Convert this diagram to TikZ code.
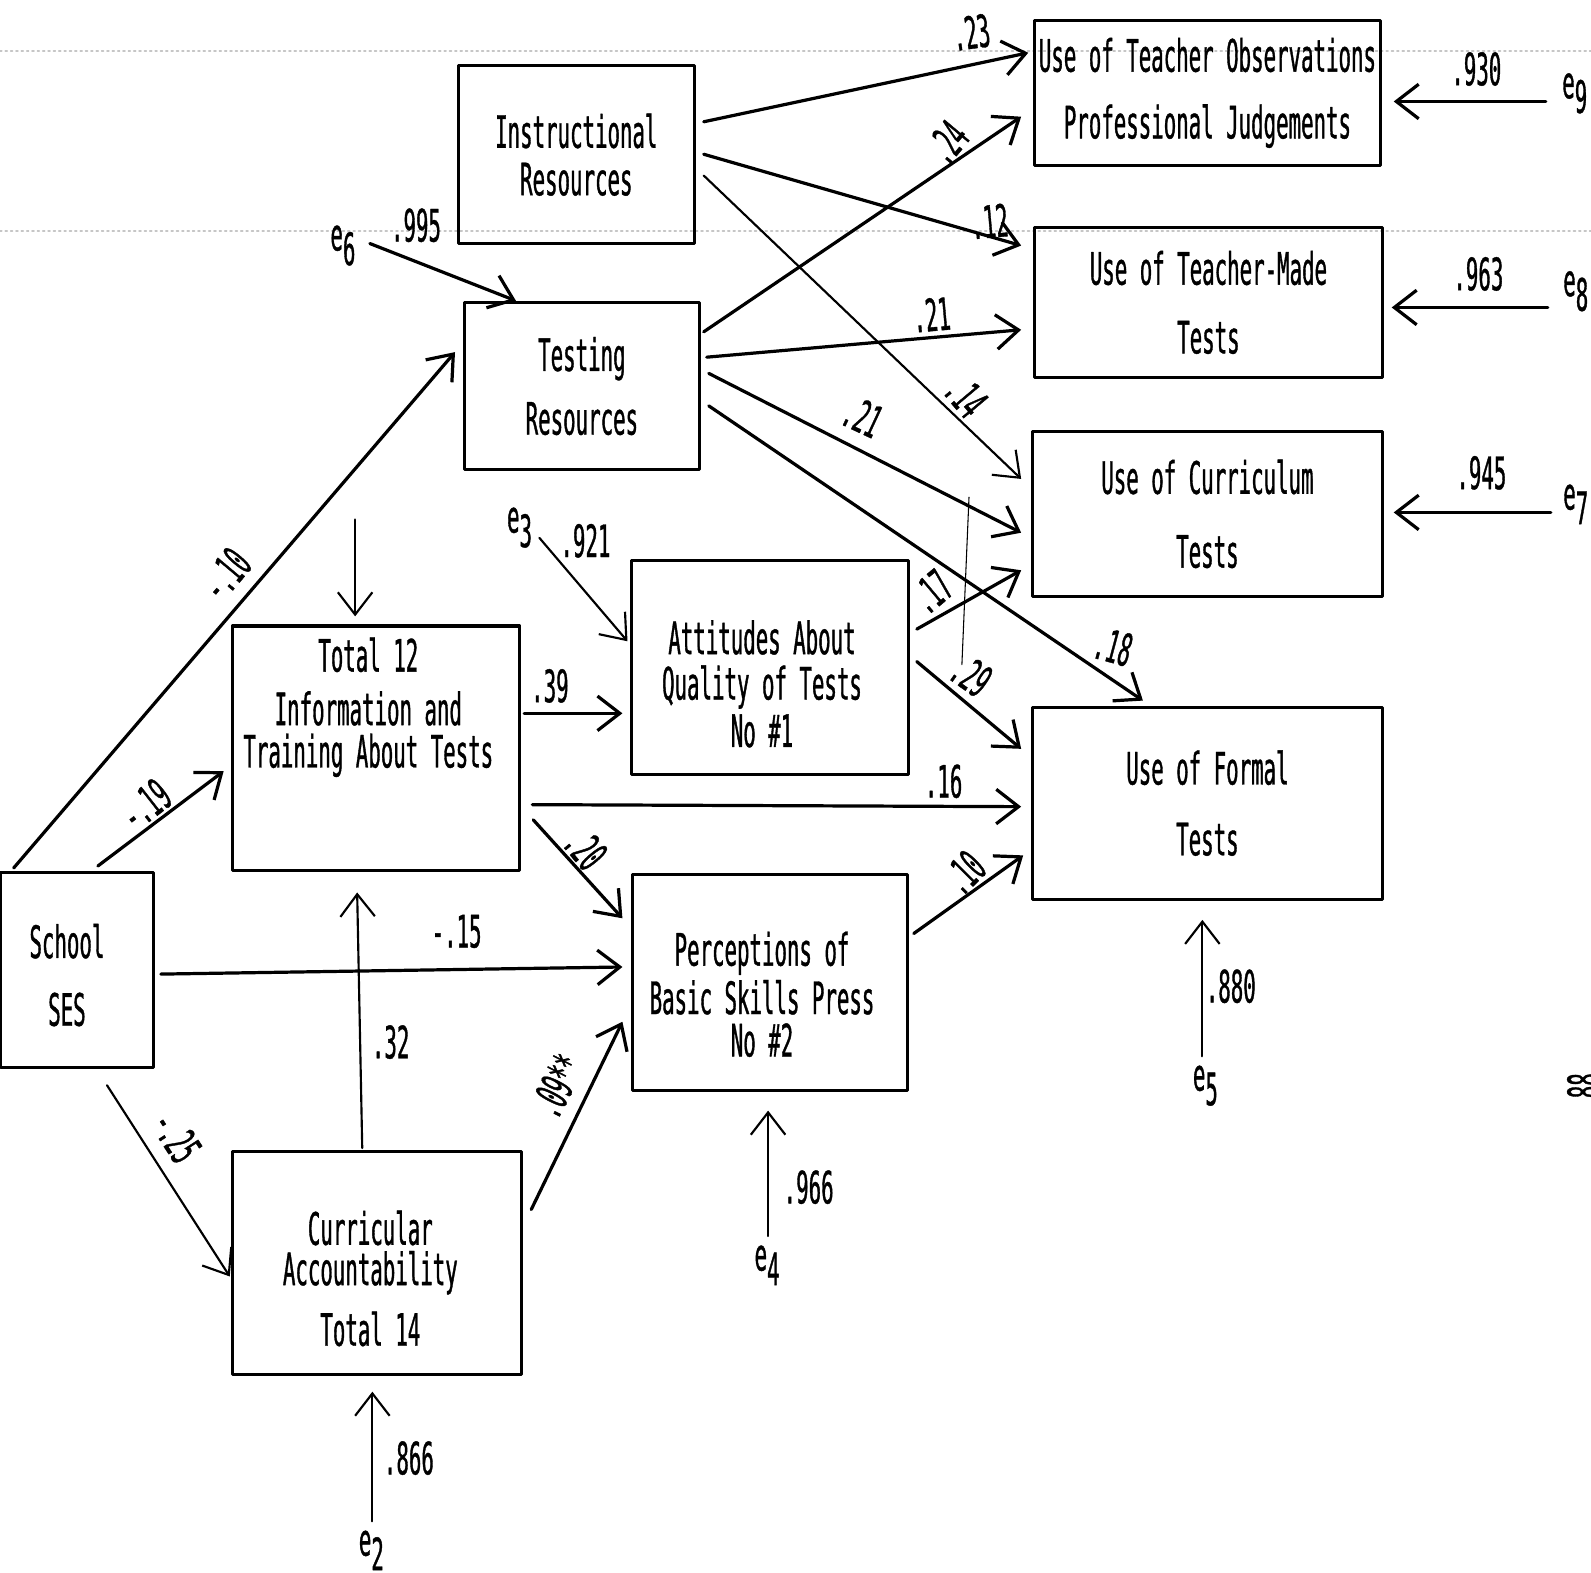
\documentclass[tikz,border=0pt]{standalone}
\usepackage{fontspec}
\newfontfamily\typefont[FakeStretch=0.465,FakeBold=0.8]{DejaVu Sans Mono}
\usetikzlibrary{arrows.meta,calc}

\newcommand{\err}[1]{e\raisebox{-0.6ex}{#1}}

\begin{document}
\begin{tikzpicture}[x=0.01cm,y=-0.01cm,line join=round,line cap=round,
    font=\typefont\fontsize{12.5}{15}\selectfont,
    box/.style={draw,line width=0.85pt,inner sep=0pt,align=center},
    pa/.style={-{Straight Barb[length=2.2mm,width=3.4mm]},line width=0.9pt},
    pb/.style={pa,line width=0.6pt},
    lbl/.style={inner sep=1pt},
    scan/.style={gray!45,densely dotted,line width=0.5pt}]
      \useasboundingbox (0,0) rectangle (1568,1550);
      \draw[scan] (0,50) -- (1568,50);
      \draw[scan] (0,228) -- (1568,228);
      \node[box,minimum width=2.32cm,minimum height=1.75cm] (instr) at (568,152.5) {Instructional\\[-0.06cm]Resources};
      \node[box,minimum width=2.31cm,minimum height=1.65cm] (tst) at (573.5,380.5) {Testing\\[0.1cm]Resources};
      \node[box,minimum width=2.83cm,minimum height=2.41cm] (tot) at (370.5,737.5) {};
      \node[align=center,inner sep=0pt] (totT) at (363,697) {Total 12\\Information and\\[-0.11cm]Training About Tests};
      \node[box,minimum width=2.73cm,minimum height=2.11cm] (att) at (758.5,657.5) {};
      \node[align=center,inner sep=0pt] (attT) at (751,674) {Attitudes About\\[-0.08cm]Quality of Tests\\[-0.06cm]No \#1};
      \node[box,minimum width=2.71cm,minimum height=2.13cm] (per) at (758.5,968.5) {};
      \node[align=center,inner sep=0pt] (perT) at (751,980) {Perceptions of\\[-0.05cm]Basic Skills Press\\[-0.11cm]No \#2};
      \node[box,minimum width=2.85cm,minimum height=2.2cm] (cur) at (371.5,1245) {};
      \node[align=center,inner sep=0pt] (curT) at (365,1260) {Curricular\\[-0.13cm]Accountability\\[0.07cm]Total 14};
      \node[box,minimum width=1.5cm,minimum height=1.92cm] (ses) at (76,956) {};
      \node[align=center,inner sep=0pt] (sesT) at (66,961) {School\\[0.14cm]SES};
      \node[box,minimum width=3.4cm,minimum height=1.43cm] (obs) at (1190,91.5) {Use of Teacher Observations\\[0.13cm]Professional Judgements};
      \node[box,minimum width=3.42cm,minimum height=1.48cm] (tmd) at (1191,298) {Use of Teacher-Made\\[0.15cm]Tests};
      \node[box,minimum width=3.44cm,minimum height=1.63cm] (crt) at (1190,506.5) {Use of Curriculum\\[0.2cm]Tests};
      \node[box,minimum width=3.44cm,minimum height=1.89cm] (frm) at (1190,791.5) {Use of Formal\\[0.17cm]Tests};

      \draw[pa] ($(ses.north west)+(14,-3)$) -- ($(tst.west)+(-8,-33.5)$);
      \node[lbl,rotate=50] (wSesTst) at (222,566) {-.10};
      \draw[pa] ($(ses.north west)+(97,-5)$) -- ($(tot.west)+(-7,22.5)$);
      \node[lbl,rotate=38] (wSesTot) at (143,793) {-.19};
      \draw[pa] ($(ses.east)+(6,4)$) -- ($(per.west)+(-8,-15.5)$);
      \node[lbl] (wSesPer) at (450,918) {-.15};
      \draw[pb] ($(ses.south west)+(106,16)$) -- ($(cur.west)+(-1,13)$);
      \node[lbl,rotate=-57] (wSesCur) at (174,1120) {-.25};
      \draw[pb] ($(cur.north)+(-14.5,-2)$) -- ($(tot.south)+(-18.5,20)$);
      \node[lbl] (wCurTot) at (385,1027) {.32};
      \draw[pa] ($(cur.east)+(8,-53)$) -- ($(per.west)+(-8,38.5)$);
      \node[lbl,rotate=63] (wCurPer) at (549,1070) {.09**};
      \draw[pa] ($(tot.east)+(3,-34.5)$) -- ($(att.west)+(-7,45.5)$);
      \node[lbl] (wTotAtt) at (542,676) {.39};
      \draw[pa] ($(tot.east)+(11,55.5)$) -- ($(frm.west)+(-10,3.5)$);
      \node[lbl] (wTotFrm) at (930,770) {.16};
      \draw[pa] ($(tot.east)+(12,70.5)$) -- ($(per.west)+(-8,-63.5)$);
      \node[lbl,rotate=-50] (wTotPer) at (577,836) {.20};
      \draw[pa] ($(att.east)+(7,-37.5)$) -- ($(crt.west)+(-10,55.5)$);
      \node[lbl,rotate=40] (wAttCrt) at (918,583) {.17};
      \draw[pa] ($(att.east)+(7,-5.5)$) -- ($(frm.west)+(-10,-53.5)$);
      \node[lbl,rotate=-35] (wAttFrm) at (957,665) {.29};
      \draw[pa] ($(per.east)+(5,-48.5)$) -- ($(frm.west)+(-8,51.5)$);
      \node[lbl,rotate=45] (wPerFrm) at (950,860) {.10};
      \draw[pa] ($(instr.east)+(8,-32.5)$) -- ($(obs.west)+(-5,-39.5)$);
      \node[lbl,rotate=8] (wInsObs) at (957,32) {.23};
      \draw[pa] ($(instr.east)+(8,-0.5)$) -- ($(tmd.west)+(-12,-56)$);
      \node[lbl,rotate=5] (wInsTmd) at (975,218) {.12};
      \draw[pb] ($(instr.east)+(8,20.5)$) -- ($(crt.west)+(-10,-34.5)$);
      \node[lbl,rotate=-50] (wInsCrt) at (952,390) {.14};
      \draw[pa] ($(tst.east)+(3,-53.5)$) -- ($(obs.west)+(-12,23.5)$);
      \node[lbl,rotate=50] (wTstObs) at (933,140) {.24};
      \draw[pa] ($(tst.east)+(6,-28.5)$) -- ($(tmd.west)+(-12,27)$);
      \node[lbl,rotate=5] (wTstTmd) at (918,310) {.21};
      \draw[pa] ($(tst.east)+(8,-12.5)$) -- ($(crt.west)+(-10,18.5)$);
      \node[lbl,rotate=-25] (wTstCrt) at (850,410) {.21};
      \draw[pa] ($(tst.east)+(8,19.5)$) -- ($(frm.north west)+(110,-5)$);
      \node[lbl,rotate=-15] (wTstFrm) at (1097,637) {.18};

      \node[lbl] (e9) at (1552,92) {\err{9}};
      \draw[pa] ($(e9.west)+(-12,8)$) -- ($(obs.east)+(12,8.5)$);
      \node[lbl] (r9) at (1455,68) {.930};
      \node[lbl] (e8) at (1553,287) {\err{8}};
      \draw[pa] ($(e8.west)+(-11,16)$) -- ($(tmd.east)+(8,5)$);
      \node[lbl] (r8) at (1457,270) {.963};
      \node[lbl] (e7) at (1553,497) {\err{7}};
      \draw[pa] ($(e7.west)+(-8,8)$) -- ($(crt.east)+(10,-1.5)$);
      \node[lbl] (r7) at (1460,466) {.945};
      \node[lbl] (e5) at (1188,1070) {\err{5}};
      \draw[pb] ($(e5.north)+(-3,-5)$) -- ($(frm.south)+(-5,19)$);
      \node[lbl] (r5) at (1213,972) {.880};
      \node[lbl] (e4) at (756,1247) {\err{4}};
      \draw[pb] ($(e4.north)+(1,-5)$) -- ($(per.south)+(-1.5,18)$);
      \node[lbl] (r4) at (797,1170) {.966};
      \node[lbl] (e2) at (366,1528) {\err{2}};
      \draw[pb] ($(e2.north)+(1,-5)$) -- ($(cur.south)+(-4.5,15)$);
      \node[lbl] (r2) at (403,1437) {.866};
      \node[lbl] (e3) at (512,520) {\err{3}};
      \draw[pb] ($(e3.east)+(3,10)$) -- ($(att.west)+(-2,-25.5)$);
      \node[lbl] (r3) at (577,533) {.921};
      \node[lbl] (e6) at (338,242) {\err{6}};
      \draw[pa] ($(e6.east)+(10,-2)$) -- ($(tst.north)+(-65,0)$);
      \node[lbl] (r6) at (410,222) {.995};
      \coordinate (e1) at (350,512);
      \draw[pb] (e1) -- ($(tot.north)+(-20.5,-8)$);

      \draw[line width=0.3pt] (955,490) -- (948,655);
      \node[lbl,rotate=90] (pg) at (1561,1070) {88};
    \end{tikzpicture}
\end{document}
